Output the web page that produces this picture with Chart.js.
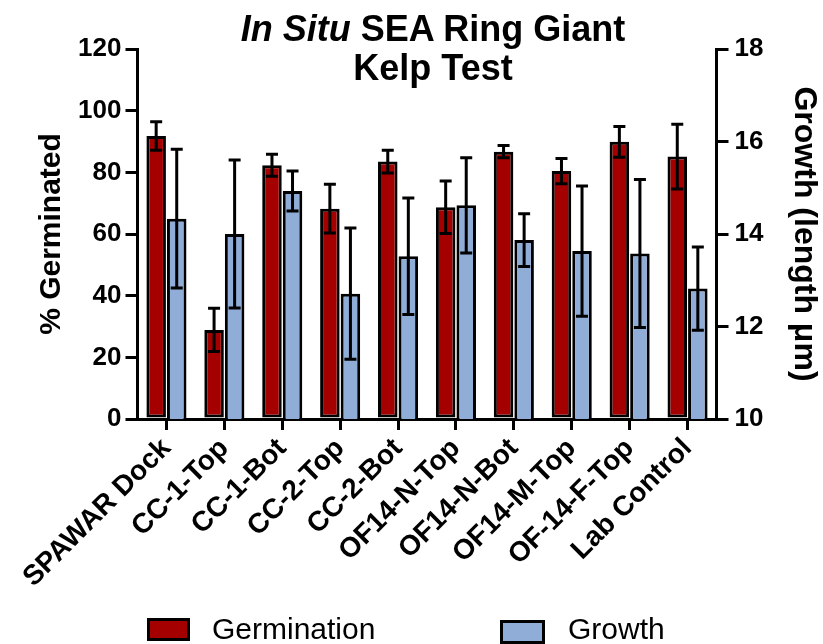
<!DOCTYPE html>
<html>
<head>
<meta charset="utf-8">
<script src="https://cdn.jsdelivr.net/npm/chart.js@4/dist/chart.umd.min.js"></script>
<style>
  html, body { margin: 0; padding: 0; background: #fff; }
  #wrap { position: relative; width: 823px; height: 644px; overflow: hidden; font-family: "Liberation Sans", Arial, sans-serif; }
  #title { position: absolute; left: 233px; width: 400px; top: 9px; text-align: center; font-size: 36px; font-weight: bold; line-height: 39px; color: #000; }
  .leg { position: absolute; font-size: 30px; line-height: 30px; color: #000; }
  .box { position: absolute; box-sizing: border-box; border: 3px solid #000; }
</style>
</head>
<body>
<div id="wrap">
  <canvas id="myChart" width="823" height="644"></canvas>
  <div id="title"><i>In Situ</i> SEA Ring Giant<br>Kelp Test</div>
  <div class="box" style="left:147px;top:618px;width:43px;height:23px;background:#a50000"></div>
  <div class="leg" style="left:212px;top:614px">Germination</div>
  <div class="box" style="left:500px;top:620px;width:45px;height:24px;background:#8fadd6"></div>
  <div class="leg" style="left:568px;top:614px">Growth</div>
</div>
<script>
const sites = ['SPAWAR Dock', 'CC-1-Top', 'CC-1-Bot', 'CC-2-Top', 'CC-2-Bot', 'OF14-N-Top', 'OF14-N-Bot', 'OF14-M-Top', 'OF-14-F-Top', 'Lab Control'];

// % germinated (left axis) y error
const germination = [91.8, 28.9, 82.3, 68.2, 83.5, 68.7, 86.7, 80.4, 89.9, 85.1];
const germination_err = [4.6, 7.0, 3.6, 7.9, 3.7, 8.5, 2.0, 4.1, 5.0, 10.5];

// growth in um (right axis)
const growth = [14.33, 14.0, 14.93, 12.71, 13.52, 14.62, 13.87, 13.63, 13.58, 12.82];
const growth_err = [1.5, 1.6, 0.43, 1.42, 1.26, 1.03, 0.57, 1.41, 1.6, 0.9];

const left_ticks = [0, 20, 40, 60, 80, 100, 120];
const right_ticks = [10, 12, 14, 16, 18];

const errors = [germination_err, growth_err];
const FONT = '"Liberation Sans", Arial, sans-serif';

// barras de error dibujadas con las escalas
const errorBars = {
    id: 'errorBars',
    afterDatasetsDraw(chart) {
        const c = chart.ctx;
        c.save();
        c.strokeStyle = '#000';
        c.lineWidth = 3;
        chart.data.datasets.forEach((ds, i) => {
            const meta = chart.getDatasetMeta(i);
            const sc = chart.scales[meta.yAxisID];
            meta.data.forEach((bar, j) => {
                const v = ds.data[j], e = errors[i][j];
                const top = sc.getPixelForValue(v + e);
                const bot = sc.getPixelForValue(v - e);
                c.beginPath();
                c.moveTo(bar.x, top); c.lineTo(bar.x, bot);
                c.moveTo(bar.x - 6, top); c.lineTo(bar.x + 6, top);
                c.moveTo(bar.x - 6, bot); c.lineTo(bar.x + 6, bot);
                c.stroke();
            });
        });
        c.restore();
    }
};

const ctx = document.getElementById('myChart').getContext('2d');
const chart = new Chart(ctx, {
    type: 'bar',
    data: {
        labels: sites,
        datasets: [{
            label: 'Germination',
            data: germination,
            yAxisID: 'y',
            backgroundColor: '#a50000',
            borderColor: '#000',
            borderWidth: 3,
            borderSkipped: false
        }, {
            label: 'Growth',
            data: growth,
            yAxisID: 'y2',
            backgroundColor: '#8fadd6',
            borderColor: '#000',
            borderWidth: 3,
            borderSkipped: false
        }]
    },
    options: {
        responsive: false,
        animation: false,
        categoryPercentage: 0.71,
        barPercentage: 0.95,
        layout: { padding: { top: 49, left: 0, right: 0, bottom: 0 } },
        plugins: {
            legend: { display: false },
            title: { display: false },
            tooltip: { enabled: false }
        },
        scales: {
            x: {
                grid: { offset: false, drawOnChartArea: false, color: '#000', lineWidth: 3, tickLength: 11, tickWidth: 3 },
                border: { display: true, color: '#000', width: 3 },
                ticks: { color: '#000', font: { family: FONT, size: 28, weight: 'bold' }, minRotation: 45, maxRotation: 45, padding: 2, autoSkip: false },
                afterFit(s) { s.height = 225; }
            },
            y: {
                position: 'left',
                min: 0, max: 120,
                afterBuildTicks(s) { s.ticks = left_ticks.map(v => ({ value: v })); },
                grid: { drawOnChartArea: false, color: '#000', lineWidth: 3, tickLength: 12 },
                border: { display: true, color: '#000', width: 3 },
                ticks: { color: '#000', font: { family: FONT, size: 26, weight: 'bold' }, padding: 4 },
                title: { display: true, text: '% Germinated', color: '#000', font: { family: FONT, size: 30, weight: 'bold' }, padding: { top: 34, bottom: 0 } },
                afterFit(s) { s.width = 137.5; }
            },
            y2: {
                position: 'right',
                min: 10, max: 18,
                afterBuildTicks(s) { s.ticks = right_ticks.map(v => ({ value: v })); },
                grid: { drawOnChartArea: false, color: '#000', lineWidth: 3, tickLength: 12 },
                border: { display: true, color: '#000', width: 3 },
                ticks: { color: '#000', font: { family: FONT, size: 26, weight: 'bold' }, padding: 6 },
                title: { display: true, text: 'Growth (length μm)', color: '#000', font: { family: FONT, size: 32, weight: 'bold' }, padding: { top: 0, bottom: 0 } },
                afterFit(s) { s.width = 106.5; }
            }
        }
    },
    plugins: [errorBars]
});
</script>
</body>
</html>
